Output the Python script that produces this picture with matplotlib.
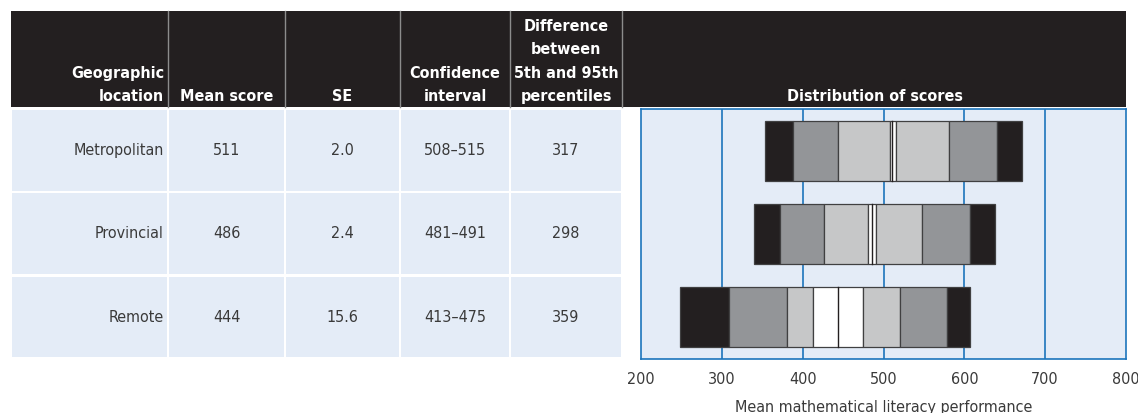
import matplotlib.pyplot as plt
from matplotlib.patches import Rectangle

# data
locations = ["Metropolitan", "Provincial", "Remote"]
mean_scores = [511, 486, 444]
std_errors = [2.0, 2.4, 15.6]
ci_low = [508, 481, 413]
ci_high = [515, 491, 475]
spread_5_95 = [317, 298, 359]
p5 = [354, 340, 248]
p10 = [388, 372, 309]
p25 = [444, 426, 381]
p75 = [581, 548, 521]
p90 = [640, 607, 579]
p95 = [671, 638, 607]

headers = ["Geographic\nlocation", "Mean score", "SE", "Confidence\ninterval",
           "Difference\nbetween\n5th and 95th\npercentiles"]
x_ticks = [200, 300, 400, 500, 600, 700, 800]

plt.rcParams["font.family"] = ["DejaVu Sans"]
plt.rcParams["font.stretch"] = "condensed"

BLACK = "#231F20"
DARK = "#939598"
LIGHT = "#C6C7C8"
PALE_BLUE = "#E4ECF7"
BLUE = "#1C75BC"
TEXT = "#3A3A3A"

W, H = 1138, 414
fig = plt.figure(figsize=(W / 100, H / 100), dpi=100)

# background layer in pixel coordinates for the table part
bg = fig.add_axes([0, 0, 1, 1])
bg.set_xlim(0, W)
bg.set_ylim(H, 0)
bg.axis("off")

col_edges = [11, 168, 285, 400, 510, 622]
row_top, row_h = 110, 83.3

bg.add_patch(Rectangle((11, 12), 1126 - 11, 96, color=BLACK, lw=0))
for x in col_edges[1:]:
    bg.plot([x, x], [12, 108], color="#8C8C8C", lw=1)

for i, h in enumerate(headers):
    if i == 0:
        bg.text(col_edges[1] - 4, 104, h, ha="right", va="bottom", multialignment="right",
                color="white", fontsize=11.5, fontweight="bold", linespacing=1.7)
    else:
        cx = (col_edges[i] + col_edges[i + 1]) / 2
        bg.text(cx, 104, h, ha="center", va="bottom", multialignment="center",
                color="white", fontsize=11.5, fontweight="bold", linespacing=1.7)
bg.text(875, 104, "Distribution of scores", ha="center", va="bottom",
        color="white", fontsize=11.5, fontweight="bold")

for r, loc in enumerate(locations):
    y0 = row_top + r * row_h
    yc = y0 + row_h / 2 - 1
    for c in range(5):
        bg.add_patch(Rectangle((col_edges[c] + 1, y0 + 1), col_edges[c + 1] - col_edges[c] - 2,
                               row_h - 2.5, color=PALE_BLUE, lw=0))
    cells = [str(mean_scores[r]), f"{std_errors[r]:.1f}",
             f"{ci_low[r]}\u2013{ci_high[r]}", str(spread_5_95[r])]
    bg.text(col_edges[1] - 4, yc, loc, ha="right", va="center", color=TEXT, fontsize=11.5)
    for c, s in enumerate(cells, start=1):
        cx = (col_edges[c] + col_edges[c + 1]) / 2
        bg.text(cx, yc, s, ha="center", va="center", color=TEXT, fontsize=11.5)

# distribution chart
ax = fig.add_axes([641 / W, (H - 360) / H, 485 / W, 250 / H])
ax.set_facecolor(PALE_BLUE)
ax.set_xlim(200, 800)
ax.set_ylim(2.5, -0.5)
for x in x_ticks[1:-1]:
    ax.axvline(x, color=BLUE, lw=1.2, zorder=1)

bar_h = 0.72
for r in range(len(locations)):
    segs = [(p5[r], p10[r], BLACK), (p10[r], p25[r], DARK), (p25[r], ci_low[r], LIGHT),
            (ci_low[r], ci_high[r], "white"), (ci_high[r], p75[r], LIGHT),
            (p75[r], p90[r], DARK), (p90[r], p95[r], BLACK)]
    for a, b, col in segs:
        ax.barh(r, b - a, left=a, height=bar_h, color=col, edgecolor="#404041",
                linewidth=0.9, zorder=3)
    ax.plot([mean_scores[r]] * 2, [r - bar_h / 2, r + bar_h / 2], color=BLACK, lw=1, zorder=4)

for s in ax.spines.values():
    s.set_color(BLUE)
    s.set_linewidth(1.2)
ax.set_yticks([])
ax.set_xticks(x_ticks)
ax.tick_params(axis="x", length=0, pad=9, labelsize=11.5, labelcolor=TEXT)
ax.set_xlabel("Mean mathematical literacy performance", fontsize=11.5, color=TEXT, labelpad=9)

fig.savefig("out.png", dpi=100)
